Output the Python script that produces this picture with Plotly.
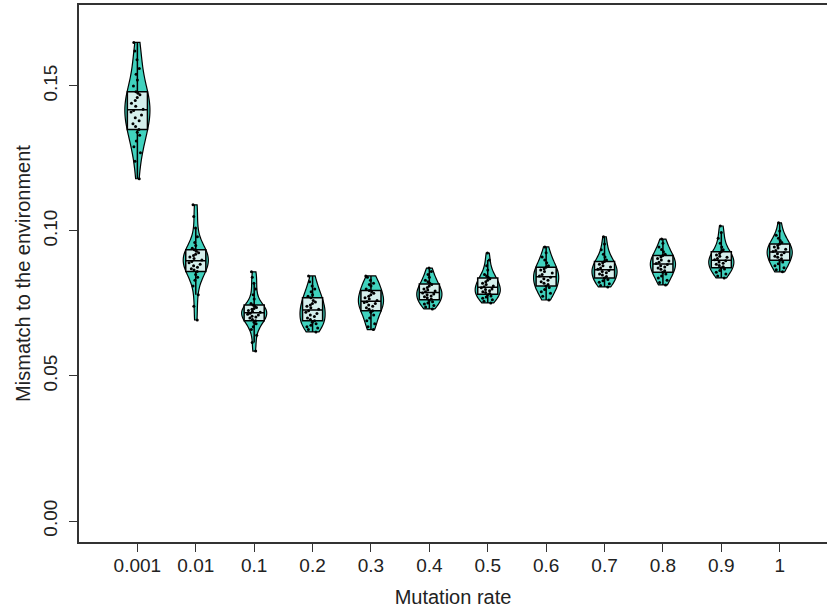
import plotly.graph_objects as go

categories = ["0.001", "0.01", "0.1", "0.2", "0.3", "0.4", "0.5", "0.6", "0.7", "0.8", "0.9", "1"]

mr_0001 = [0.118, 0.124, 0.127, 0.129, 0.131, 0.133, 0.134, 0.135, 0.136, 0.137, 0.138, 0.139, 0.140, 0.141, 0.1415,
           0.142, 0.143, 0.144, 0.145, 0.146, 0.147, 0.1475, 0.148, 0.150, 0.152, 0.154, 0.156, 0.159, 0.162, 0.165]
mr_001 = [0.0693, 0.074, 0.078, 0.081, 0.083, 0.084, 0.085, 0.086, 0.0865, 0.087, 0.0875, 0.088, 0.0885, 0.089, 0.0895,
          0.090, 0.0905, 0.091, 0.0915, 0.092, 0.0925, 0.093, 0.0935, 0.094, 0.095, 0.096, 0.098, 0.101, 0.105, 0.109]
mr_01 = [0.0586, 0.0615, 0.064, 0.066, 0.067, 0.068, 0.0685, 0.069, 0.0695, 0.070, 0.0703, 0.0706, 0.071, 0.0713, 0.0716,
         0.072, 0.0723, 0.0726, 0.073, 0.0733, 0.0736, 0.074, 0.0745, 0.075, 0.0765, 0.078, 0.080, 0.082, 0.084, 0.0859]
mr_02 = [0.0652, 0.066, 0.0665, 0.067, 0.0675, 0.068, 0.0685, 0.069, 0.0695, 0.070, 0.0705, 0.071, 0.0715, 0.072, 0.0725,
         0.073, 0.0735, 0.074, 0.0745, 0.075, 0.0755, 0.076, 0.077, 0.0775, 0.078, 0.079, 0.080, 0.081, 0.0825, 0.0845]
mr_03 = [0.066, 0.067, 0.068, 0.069, 0.070, 0.071, 0.072, 0.0725, 0.073, 0.0735, 0.074, 0.0745, 0.075, 0.0753, 0.0756,
         0.076, 0.0765, 0.077, 0.0775, 0.078, 0.0785, 0.079, 0.0795, 0.080, 0.081, 0.0815, 0.082, 0.083, 0.084, 0.0845]
mr_04 = [0.0731, 0.0738, 0.0743, 0.0748, 0.0752, 0.0756, 0.076, 0.0765, 0.077, 0.0773, 0.0776, 0.078, 0.0783, 0.0786,
         0.079, 0.0793, 0.0796, 0.080, 0.0805, 0.081, 0.0815, 0.082, 0.0825, 0.083, 0.084, 0.085, 0.086, 0.0872]
mr_05 = [0.0752, 0.0758, 0.0763, 0.0768, 0.0772, 0.0776, 0.078, 0.0784, 0.0788, 0.079, 0.0794, 0.0798, 0.080, 0.0804,
         0.0808, 0.081, 0.0815, 0.082, 0.0825, 0.083, 0.0835, 0.084, 0.0845, 0.085, 0.0865, 0.088, 0.090, 0.0924]
mr_06 = [0.0762, 0.0775, 0.0785, 0.079, 0.0798, 0.0805, 0.081, 0.0815, 0.082, 0.0825, 0.083, 0.0835, 0.084, 0.0845,
         0.085, 0.0855, 0.086, 0.0865, 0.087, 0.0875, 0.088, 0.089, 0.090, 0.091, 0.0925, 0.0945]
mr_07 = [0.0807, 0.0812, 0.0818, 0.0823, 0.0828, 0.0833, 0.0838, 0.0843, 0.0848, 0.0852, 0.0856, 0.086, 0.0864, 0.0868,
         0.0872, 0.0876, 0.088, 0.0885, 0.089, 0.0895, 0.090, 0.091, 0.092, 0.0935, 0.0955, 0.098]
mr_08 = [0.0814, 0.0822, 0.083, 0.0838, 0.0845, 0.0852, 0.0858, 0.0863, 0.0868, 0.0872, 0.0876, 0.088, 0.0884, 0.0888,
         0.0892, 0.0896, 0.090, 0.0905, 0.091, 0.0915, 0.092, 0.0928, 0.0936, 0.0945, 0.0958, 0.0972]
mr_09 = [0.0838, 0.0845, 0.0852, 0.0858, 0.0864, 0.0869, 0.0873, 0.0877, 0.0881, 0.0885, 0.0889, 0.0893, 0.0897, 0.0901,
         0.0905, 0.0909, 0.0913, 0.0917, 0.0922, 0.0928, 0.0935, 0.0945, 0.0958, 0.0975, 0.0995, 0.1017]
mr_1 = [0.0859, 0.0866, 0.0873, 0.088, 0.0887, 0.0893, 0.0899, 0.0904, 0.0909, 0.0913, 0.0917, 0.0921, 0.0925, 0.0929,
        0.0933, 0.0937, 0.0941, 0.0945, 0.095, 0.0955, 0.096, 0.0967, 0.0975, 0.0985, 0.1, 0.1028]

series = [mr_0001, mr_001, mr_01, mr_02, mr_03, mr_04, mr_05, mr_06, mr_07, mr_08, mr_09, mr_1]

y_ticks = [0.00, 0.05, 0.10, 0.15]
y_ticktext = ["0.00", "0.05", "0.10", "0.15"]

FONT = "Liberation Sans, Arial, sans-serif"
AXC = "#333333"
TXT = "#222222"

fig = go.Figure()
for i, (cat, vals) in enumerate(zip(categories, series)):
    pos = i + 1
    fig.add_trace(go.Violin(
        x=[pos] * len(vals), y=vals, name=cat,
        width=0.43, scalemode="width", spanmode="hard",
        fillcolor="rgb(64,210,190)", opacity=1,
        line=dict(color="black", width=1.2),
        points="all", pointpos=0, jitter=0.55,
        marker=dict(color="black", size=3, line=dict(width=0)),
        box=dict(visible=True, width=0.8, fillcolor="rgba(240,245,245,0.85)",
                 line=dict(color="black", width=1.5)),
        meanline=dict(visible=False),
        hoveron="violins+points",
        showlegend=False,
    ))

fig.update_layout(
    width=827, height=611,
    margin=dict(l=79, r=0, t=5, b=69, autoexpand=False),
    paper_bgcolor="white", plot_bgcolor="white",
    font=dict(family=FONT, color=TXT, size=19),
    violinmode="overlay",
    xaxis=dict(
        range=[0, 12.81], tickvals=list(range(1, 13)), ticktext=categories,
        showline=True, linecolor=AXC, linewidth=1.5, mirror=True,
        ticks="outside", ticklen=8, tickcolor=AXC, tickwidth=1.2,
        showgrid=False, zeroline=False, automargin=False,
        ticklabelstandoff=-3,
        tickfont=dict(size=19, family=FONT, color=TXT),
        title=dict(text="Mutation rate", font=dict(size=20, family=FONT, color=TXT), standoff=15),
    ),
    yaxis=dict(
        range=[-0.00724, 0.1779], tickvals=y_ticks, ticktext=y_ticktext, tickangle=-90,
        showline=True, linecolor=AXC, linewidth=1.5, mirror=False,
        ticks="outside", ticklen=8, tickcolor=AXC, tickwidth=1.2,
        showgrid=False, zeroline=False, automargin=False,
        ticklabelstandoff=5,
        tickfont=dict(size=19, family=FONT, color=TXT),
        title=dict(text="Mismatch to the environment", font=dict(size=20, family=FONT, color=TXT), standoff=4),
    ),
)

fig.write_html("out.html", config={"displayModeBar": False},
               post_script="document.body.style.margin='0';document.body.style.padding='0';")
